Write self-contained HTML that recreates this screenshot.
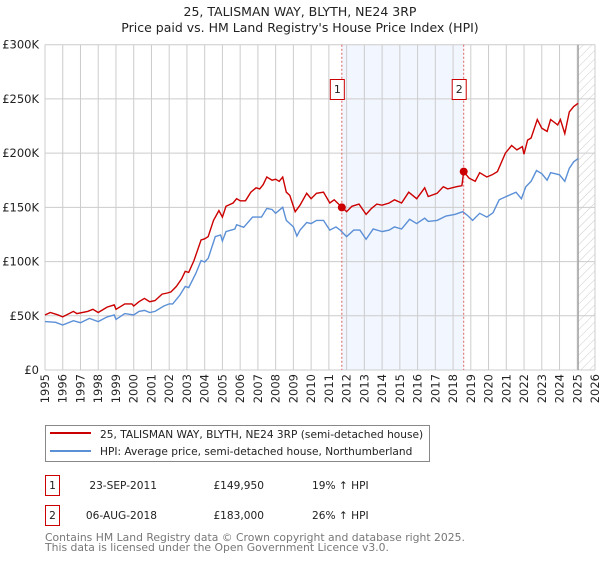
<!DOCTYPE html>
<html><head><meta charset="utf-8"><style>
body{margin:0;background:#fff;font-family:"DejaVu Sans","Liberation Sans",sans-serif;}
svg text{font-family:"DejaVu Sans","Liberation Sans",sans-serif;}
</style></head><body>
<svg id="c" width="600" height="560" viewBox="0 0 600 560" xmlns="http://www.w3.org/2000/svg">
<defs><pattern id="hatch" width="6" height="6" patternUnits="userSpaceOnUse" patternTransform="rotate(45)"><line x1="0" y1="0" x2="0" y2="6" stroke="#ccc" stroke-width="1"/></pattern></defs>
<text x="300" y="16" text-anchor="middle" font-size="12.5" fill="#222">25, TALISMAN WAY, BLYTH, NE24 3RP</text>
<text x="300" y="32" text-anchor="middle" font-size="12.5" fill="#222">Price paid vs. HM Land Registry's House Price Index (HPI)</text>
<g id="grid"></g><g id="marks"></g><g id="axes"></g>
<g>
<rect x="45.5" y="425.5" width="384" height="36" fill="#fff" stroke="#888"/>
<line x1="50" y1="433" x2="91" y2="433" stroke="#cc0000" stroke-width="2"/>
<text x="100" y="438" font-size="10.6" fill="#222">25, TALISMAN WAY, BLYTH, NE24 3RP (semi-detached house)</text>
<line x1="50" y1="451" x2="91" y2="451" stroke="#5b8fd6" stroke-width="2"/>
<text x="100" y="455" font-size="10.6" fill="#222">HPI: Average price, semi-detached house, Northumberland</text>
</g>
<g font-size="10.6" fill="#222">
<rect x="45.5" y="475.5" width="14" height="20" fill="#fff" stroke="#cc0000"/><text x="52.5" y="489" text-anchor="middle">1</text>
<text x="157" y="489" text-anchor="end">23-SEP-2011</text><text x="264" y="489" text-anchor="end">£149,950</text><text x="312" y="489">19% ↑ HPI</text>
<rect x="45.5" y="505.5" width="14" height="20" fill="#fff" stroke="#cc0000"/><text x="52.5" y="519" text-anchor="middle">2</text>
<text x="157" y="519" text-anchor="end">06-AUG-2018</text><text x="264" y="519" text-anchor="end">£183,000</text><text x="312" y="519">26% ↑ HPI</text>
</g>
<text x="45" y="541" font-size="10.8" fill="#777">Contains HM Land Registry data © Crown copyright and database right 2025.</text>
<text x="45" y="551" font-size="10.8" fill="#777">This data is licensed under the Open Government Licence v3.0.</text>
</svg>
<script>
const yTicks=[0,50,100,150,200,250,300];
const yTickLabels=["£0","£50K","£100K","£150K","£200K","£250K","£300K"];
const xYears=[1995,1996,1997,1998,1999,2000,2001,2002,2003,2004,2005,2006,2007,2008,2009,2010,2011,2012,2013,2014,2015,2016,2017,2018,2019,2020,2021,2022,2023,2024,2025,2026];
const priceT=[1995,1995.3,1995.7,1996,1996.6,1996.8,1997.4,1997.7,1998,1998.5,1998.9,1999,1999.5,1999.9,2000,2000.3,2000.6,2000.9,2001.2,2001.6,2001.9,2002.1,2002.4,2002.7,2002.9,2003.1,2003.4,2003.8,2004,2004.2,2004.5,2004.8,2005,2005.2,2005.6,2005.8,2006,2006.3,2006.6,2006.9,2007.1,2007.3,2007.5,2007.8,2008,2008.2,2008.4,2008.6,2008.8,2009.1,2009.37,2009.75,2010,2010.3,2010.7,2011.05,2011.3,2011.73,2012,2012.3,2012.7,2013.1,2013.4,2013.7,2014,2014.4,2014.7,2015.1,2015.5,2015.95,2016.4,2016.6,2017.1,2017.45,2017.7,2018.2,2018.5,2018.6,2018.9,2019.25,2019.5,2019.9,2020.2,2020.5,2020.95,2021.3,2021.6,2021.9,2022,2022.2,2022.4,2022.75,2023,2023.3,2023.5,2023.9,2024.05,2024.3,2024.55,2024.8,2025.05];
const priceV=[50.7,53,51,49,54,52,54,56,53,58,60,56,61,61,59,63,66,63,64,70,71,72,77,84,91,90,101,120,121,123,138,147,141,151,154,158,156,156,164,168,167,171,178,175,176,174,178,164,161,146,152,163,158,163,164,154,157,150,146,151,153,143.5,149,153,152,154,157,154,164,158,168,160,163,169,167,169,170,183,177,174,182,178,180,183,200,207,203,206,199,212,214,231,223,220,231,226,231,218,238,243,246];
const hpiT=[1995,1995.6,1996,1996.6,1997,1997.5,1998,1998.5,1998.9,1999,1999.5,2000,2000.3,2000.6,2000.9,2001.2,2001.7,2002,2002.2,2002.6,2002.9,2003.1,2003.5,2003.8,2004,2004.2,2004.6,2004.9,2005,2005.2,2005.7,2005.8,2006.2,2006.7,2007.2,2007.5,2007.8,2008,2008.4,2008.6,2009,2009.2,2009.37,2009.75,2010,2010.3,2010.7,2011.05,2011.4,2011.64,2012,2012.4,2012.75,2013.1,2013.5,2014,2014.4,2014.7,2015.1,2015.55,2015.95,2016.4,2016.6,2017.1,2017.6,2018.1,2018.55,2018.85,2019.1,2019.5,2019.9,2020.25,2020.6,2021,2021.55,2021.85,2022.1,2022.4,2022.7,2023,2023.3,2023.5,2023.75,2024.0,2024.3,2024.55,2024.8,2025.05];
const hpiV=[44.6,44,41.5,45.5,43.6,47.6,44.6,49,50.7,46.7,52,50.7,54,55,53,54,59,61,61,69,77,76,89,101,99.6,103,123,124.5,119,127.6,130,134,131.6,141,141,149,148,144.5,150,138,132,123.6,129,136,135,138,138,129,132,129,123,129,129,120.5,130,127.6,129,132,130,139,135,140,137,138,142,143.5,146,142,138,144.5,141,145,157,160,164,158,169,174,184,181,175,182,181,180,174,186,192,195];
const sales=[{t:2011.73,v:149.95,n:"1"},{t:2018.6,v:183,n:"2"}];
const NS="http://www.w3.org/2000/svg";
const X0=45,X1=595,Y0=370,Y1=44.7;
function sx(t){return X0+(t-1995)/(2026-1995)*(X1-X0);}
function sy(v){return Y0-v/300*(Y0-Y1);}
function mk(tag,attrs,parent){const e=document.createElementNS(NS,tag);for(const k in attrs)e.setAttribute(k,attrs[k]);parent.appendChild(e);return e;}
const grid=document.getElementById('grid'),marks=document.getElementById('marks'),axes=document.getElementById('axes');
const sh=mk('rect',{x:sx(sales[0].t),y:Y1,width:sx(sales[1].t)-sx(sales[0].t),height:Y0-Y1,fill:'#f2f6fe'},grid);


const hz=mk('rect',{x:sx(2025.05),y:Y1,width:X1-sx(2025.05),height:Y0-Y1,fill:'url(#hatch)'},grid);


xYears.forEach(y=>{
  const l=mk('line',{x1:sx(y),x2:sx(y),y1:Y1,y2:Y0,stroke:'#ccc','stroke-width':1},grid);
  
  
  const tx=sx(y)+4,ty=Y0+4;
  const t=mk('text',{x:tx,y:ty,transform:`rotate(-90 ${tx} ${ty})`,'text-anchor':'end','font-size':11.5,fill:'#222'},axes);
  t.textContent=y;
  
  
});
yTicks.forEach((v,i)=>{
  const l=mk('line',{x1:X0,x2:X1,y1:sy(v),y2:sy(v),stroke:'#ccc','stroke-width':1},grid);
  
  
  const t=mk('text',{x:39,y:sy(v)+4,'text-anchor':'end','font-size':11.5,fill:'#222'},axes);
  t.textContent=yTickLabels[i];
  
  
});
const nl=mk('line',{x1:sx(2025.05),x2:sx(2025.05),y1:Y1,y2:Y0,stroke:'#999','stroke-width':1.2},grid);


function path(T,V){return T.map((t,i)=>(i?'L':'M')+sx(t).toFixed(1)+','+sy(V[i]).toFixed(1)).join('');}
const hp=mk('path',{d:path(hpiT,hpiV),fill:'none',stroke:'#5b8fd6','stroke-width':1.4},marks);


const pp=mk('path',{d:path(priceT,priceV),fill:'none',stroke:'#cc0000','stroke-width':1.4},marks);


sales.forEach(s=>{
  const l=mk('line',{x1:sx(s.t),x2:sx(s.t),y1:Y1,y2:Y0,stroke:'#e06060','stroke-width':1,'stroke-dasharray':'2,2'},marks);
  
  
  const c=mk('circle',{cx:sx(s.t),cy:sy(s.v),r:4,fill:'#cc0000'},marks);
  
  
  const r=mk('rect',{x:sx(s.t)-11.5,y:79.5,width:14,height:20,fill:'#fff',stroke:'#cc0000'},marks);
  
  
  const t=mk('text',{x:sx(s.t)-4.5,y:93,'text-anchor':'middle','font-size':11,fill:'#222'},marks);
  t.textContent=s.n;
  
  
});
</script>
</body></html>
